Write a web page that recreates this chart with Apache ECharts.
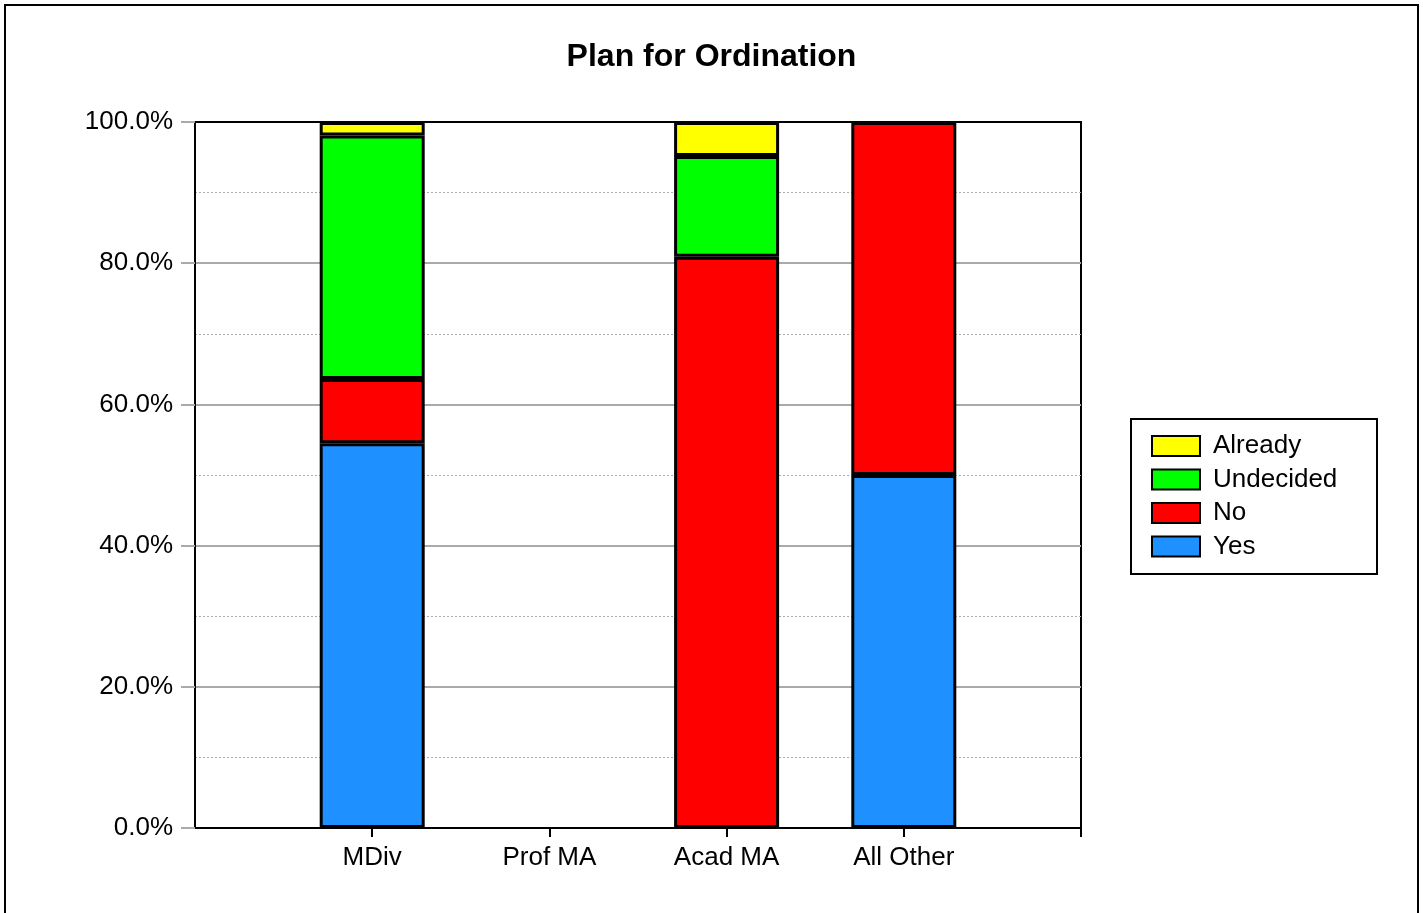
<!DOCTYPE html>
<html>
<head>
<meta charset="utf-8">
<script src="https://cdn.jsdelivr.net/npm/echarts@6/dist/echarts.min.js"></script>
<style>
html,body{margin:0;padding:0;background:#fff;}
#chart{width:1423px;height:913px;}
</style>
</head>
<body>
<div id="chart"></div>
<script>
const categories = ['MDiv', 'Prof MA', 'Acad MA', 'All Other'];
const yesValues = [54.5, '-', '-', 50.0];
const noValues = [9.1, '-', 80.9, 50.0];
const undecidedValues = [34.5, '-', 14.3, '-'];
const alreadyValues = [1.9, '-', 4.8, '-'];
const yTicks = [0, 20, 40, 60, 80, 100];

const FONT = 'Arial, "Liberation Sans", sans-serif';
const axisCats = [''].concat(categories, ['']);
function pad(arr) { return ['-'].concat(arr, ['-']); }

const chart = echarts.init(document.getElementById('chart'), null, {renderer: 'canvas'});
const seriesDefs = [
  {name: 'Yes', data: yesValues, color: '#1E90FF'},
  {name: 'No', data: noValues, color: '#FF0000'},
  {name: 'Undecided', data: undecidedValues, color: '#00FF00'},
  {name: 'Already', data: alreadyValues, color: '#FFFF00'}
];
const option = {
  backgroundColor: '#fff',
  animation: false,
  title: {
    text: 'Plan for Ordination',
    left: 'center',
    top: 36,
    textStyle: {fontFamily: FONT, fontSize: 32, fontWeight: 'bold', color: '#000'}
  },
  graphic: [
    {type: 'rect', shape: {x: 5, y: 5, width: 1413, height: 930}, style: {fill: 'none', stroke: '#000', lineWidth: 2}, silent: true},
    {type: 'rect', shape: {x: 1131, y: 419, width: 246, height: 155}, style: {fill: '#fff', stroke: '#000', lineWidth: 2}, silent: true, z: -1}
  ],
  legend: {
    orient: 'vertical',
    left: 1146,
    top: 428,
    data: ['Already', 'Undecided', 'No', 'Yes'],
    itemWidth: 48,
    itemHeight: 20,
    itemGap: 7.5,
    padding: 5,
    icon: 'rect',
    itemStyle: {borderColor: '#000', borderWidth: 2},
    textStyle: {fontFamily: FONT, fontSize: 26, color: '#000', lineHeight: 26, padding: [0, 0, 0, 8]}
  },
  grid: {
    left: 195, right: 342, top: 122, bottom: 85,
    show: true, borderColor: '#000', borderWidth: 2, backgroundColor: 'transparent'
  },
  xAxis: {
    type: 'category',
    data: axisCats,
    boundaryGap: false,
    axisLine: {lineStyle: {color: '#000', width: 2}},
    axisTick: {show: true, length: 9, interval: (i) => i > 0, lineStyle: {color: '#000', width: 2}},
    axisLabel: {interval: 0, margin: 17, fontFamily: FONT, fontSize: 26, color: '#000'},
    splitLine: {show: false}
  },
  yAxis: {
    type: 'value',
    min: yTicks[0],
    max: yTicks[yTicks.length - 1],
    interval: 20,
    axisLine: {show: true, lineStyle: {color: '#000', width: 2}},
    axisTick: {show: true, length: 14, lineStyle: {color: '#aaa', width: 2}},
    axisLabel: {margin: 22, fontFamily: FONT, fontSize: 26, color: '#000', formatter: v => v.toFixed(1) + '%'},
    splitLine: {show: true, showMaxLine: false, showMinLine: false, lineStyle: {color: '#aaa', width: 2}},
    minorTick: {show: false, splitNumber: 2},
    minorSplitLine: {show: true, lineStyle: {color: '#aaa', width: 1, type: [2, 2]}}
  },
  series: seriesDefs.map(s => ({
    name: s.name,
    type: 'bar',
    stack: 'total',
    barWidth: 105,
    data: pad(s.data),
    itemStyle: {color: s.color, borderColor: '#000', borderWidth: 3}
  }))
};
chart.setOption(option);
</script>
</body>
</html>
